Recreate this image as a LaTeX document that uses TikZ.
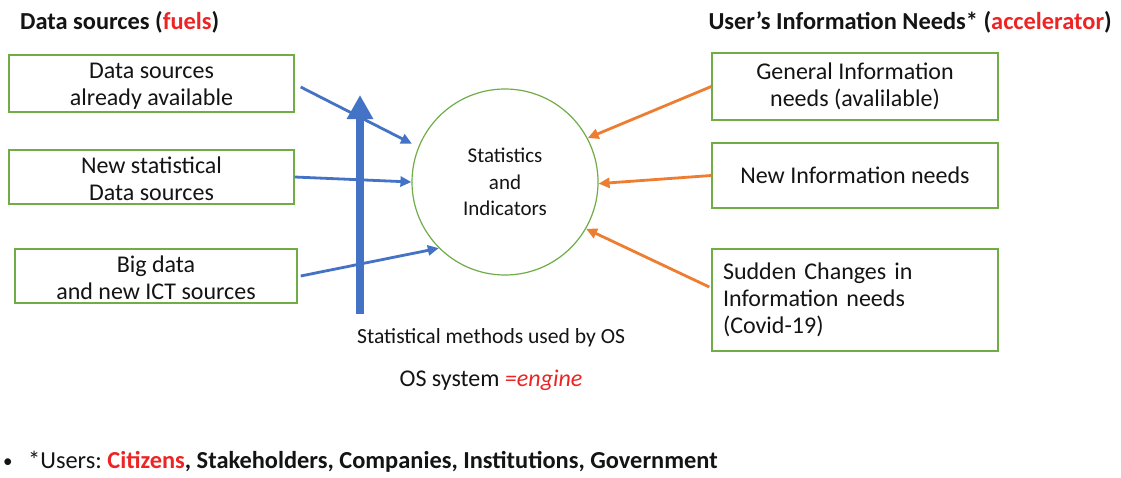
\documentclass[tikz,border=0pt]{standalone}
\usepackage{fontspec}
\setmainfont{Carlito}
\usetikzlibrary{arrows.meta}

\definecolor{boxgreen}{RGB}{112,173,71}
\definecolor{flowblue}{RGB}{68,114,196}
\definecolor{floworange}{RGB}{237,125,49}
\definecolor{hilite}{RGB}{238,36,36}
\definecolor{ink}{RGB}{20,20,20}

\newcommand\setfs[2]{\fontsize{#1}{#2}\selectfont}
\frenchspacing

\tikzset{
  srcbox/.style={draw=boxgreen, line width=1.4pt, rectangle, inner sep=0pt,
    align=center, text=ink, font=\setfs{24}{27}},
  hub/.style={draw=boxgreen, line width=1.2pt, circle, minimum size=186pt,
    inner sep=0pt, align=center, text=ink, font=\setfs{21}{26.5}},
  fuel/.style={draw=flowblue, line width=2.8pt, -{Triangle[length=11pt,width=10pt]}},
  need/.style={draw=floworange, line width=2.8pt, -{Triangle[length=11pt,width=10pt]}},
  enginearrow/.style={draw=flowblue, line width=8pt, -{Triangle[length=24pt,width=25pt]}},
  heading/.style={inner sep=0pt, text=ink, font=\setfs{24.4}{28}\bfseries},
  plain/.style={inner sep=0pt, text=ink}
}

\begin{document}
\begin{tikzpicture}[x=1pt, y=-1pt]
  \fill[white] (0,0) rectangle (1121,477);
  \useasboundingbox (0,0) rectangle (1121,477);

  % headings
  \node[heading, anchor=base west] (hleft) at (20,29)
    {Data sources (\textcolor{hilite}{fuels})};
  \node[heading, anchor=base east] (hright) at (1112,29)
    {User’s Information Needs* (\textcolor{hilite}{accelerator})};

  % the engine: statistical methods pushing upwards
  \coordinate (enginebase) at (360,314);
  \coordinate (enginetop) at (360,95);
  \draw[enginearrow] (enginebase) -- (enginetop);

  % data sources
  \node[srcbox, minimum width=285pt, minimum height=57pt] (l1) at (151.5,83.5)
    {\rule{0pt}{21pt}Data sources\\already available};
  \node[srcbox, minimum width=285pt, minimum height=54pt] (l2) at (151.5,177)
    {\rule{0pt}{21pt}New statistical\\Data sources};
  \node[srcbox, minimum width=282pt, minimum height=54pt] (l3) at (156,276)
    {\rule{0pt}{21pt}Big data\\and new ICT sources};

  % central product
  \node[hub] (c) at (505,182) {Statistics\\and\\Indicators};

  % information needs
  \node[srcbox, minimum width=286pt, minimum height=67pt] (r1) at (855,86.5)
    {General Information\\needs (avalilable)};
  \node[srcbox, minimum width=286pt, minimum height=65pt] (r2) at (855,175.5)
    {New Information needs};
  \node[srcbox, minimum width=286pt, minimum height=102pt, text width=264pt,
        align=left] (r3) at (855,300)
    {Sudden Changes in\\Information needs\\(Covid-19)};

  % flows into the hub
  \draw[fuel, shorten >=7pt] ([xshift=6pt,yshift=-3.5pt]l1.east) -- (c.158);
  \draw[fuel] (l2.east) -- (c.west);
  \draw[fuel] ([xshift=3pt]l3.east) -- (c.225);

  \draw[need] (r1.west) -- (c.28);
  \draw[need] (r2.west) -- (c.-1);
  \draw[need] ([xshift=-2pt,yshift=13pt]r3.west) -- (c.-30);

  % captions under the engine
  \node[plain, anchor=base west, font=\setfs{21.6}{25}] (methods) at (357,343)
    {Statistical methods used by OS};
  \node[plain, anchor=base, font=\setfs{24}{28}] (engine) at (491,386)
    {OS system \textcolor{hilite}{\itshape =engine}};

  % users footnote
  \node[plain, anchor=base west, font=\setfs{19}{22}] (bullet) at (3,467) {•};
  \node[plain, anchor=base west, font=\setfs{24.4}{28}] (users) at (28,468)
    {*Users: \textbf{\textcolor{hilite}{Citizens}, Stakeholders, Companies, Institutions, Government}};
\end{tikzpicture}
\end{document}
